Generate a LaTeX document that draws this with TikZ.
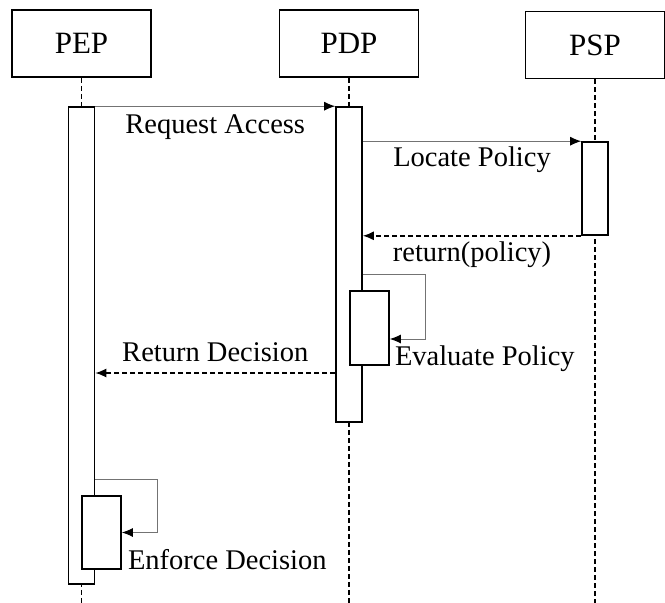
\documentclass[tikz,border=0pt]{standalone}
\usepackage{fontspec}
\setmainfont{Liberation Serif}
\usetikzlibrary{arrows.meta,positioning,calc}

\begin{document}
\begin{tikzpicture}[
    x=1pt, y=-1pt,
    actor/.style={
        draw,
        line width=1.6pt,
        minimum width=139pt,
        minimum height=67pt,
        inner sep=0pt,
        font=\fontsize{31}{36}\selectfont
    },
    bar/.style={draw, fill=white, line width=1.6pt, minimum width=26pt, inner sep=0pt},
    lifeline/.style={line width=1.5pt, dash pattern=on 5pt off 3pt},
    msg/.style={draw=black!55, line width=1pt, -{Latex[length=11pt,width=9pt,color=black]}},
    reply/.style={lifeline, -{Latex[length=11pt,width=9pt]}},
    lbl/.style={inner sep=0pt, font=\fontsize{28.5}{34}\selectfont}
]
\useasboundingbox (0,0) rectangle (665,603);

% participants
\node[actor] (pep) at (81.5,43.5) {PEP};
\node[actor] (pdp) at (349,43.5) {PDP};
\node[actor] (psp) at (595,45) {PSP};

% lifelines
\draw[lifeline] (pep.south) -- (pep.south |- 0,603);
\draw[lifeline] (pdp.south) -- (pdp.south |- 0,603);
\draw[lifeline] (psp.south) -- (psp.south |- 0,603);

% activations
\node[bar, minimum height=477pt] (pepBar) at (81.5,345.5) {};
\node[bar, minimum height=315pt] (pdpBar) at (349,264.5) {};
\node[bar, minimum height=93pt] (pspBar) at (595,188.5) {};
\node[bar, minimum width=39pt, minimum height=74pt] (evalBar) at (369.5,328) {};
\node[bar, minimum width=39pt, minimum height=73pt] (enforceBar) at (101.5,532.5) {};

% messages
\draw[msg] (pepBar.north east) -- (pdpBar.north west)
    node[lbl, midway, below=8pt] {Request Access};
\draw[msg] (pdpBar.east |- pspBar.north) -- (pspBar.north west)
    node[lbl, midway, below=5pt] {Locate Policy};
\draw[reply] (pspBar.south west) -- (pdpBar.east |- pspBar.south)
    node[lbl, midway, below=5pt] {return(policy)};
\draw[msg] (pdpBar.east |- 0,274) -- ++(63,0) |- ([yshift=-11pt]evalBar.east);
\node[lbl, anchor=base west] (evalLbl) at ([xshift=5pt]evalBar.south east) {Evaluate Policy};
\draw[reply] (pdpBar.west |- 0,373) -- (pepBar.east |- 0,373)
    node[lbl, midway, above=10pt] {Return Decision};
\draw[msg] (pepBar.east |- 0,479) -- ++(62,0) |- (enforceBar.east);
\node[lbl, anchor=base west] (enforceLbl) at ([xshift=6pt]enforceBar.south east) {Enforce Decision};

\end{tikzpicture}
\end{document}
